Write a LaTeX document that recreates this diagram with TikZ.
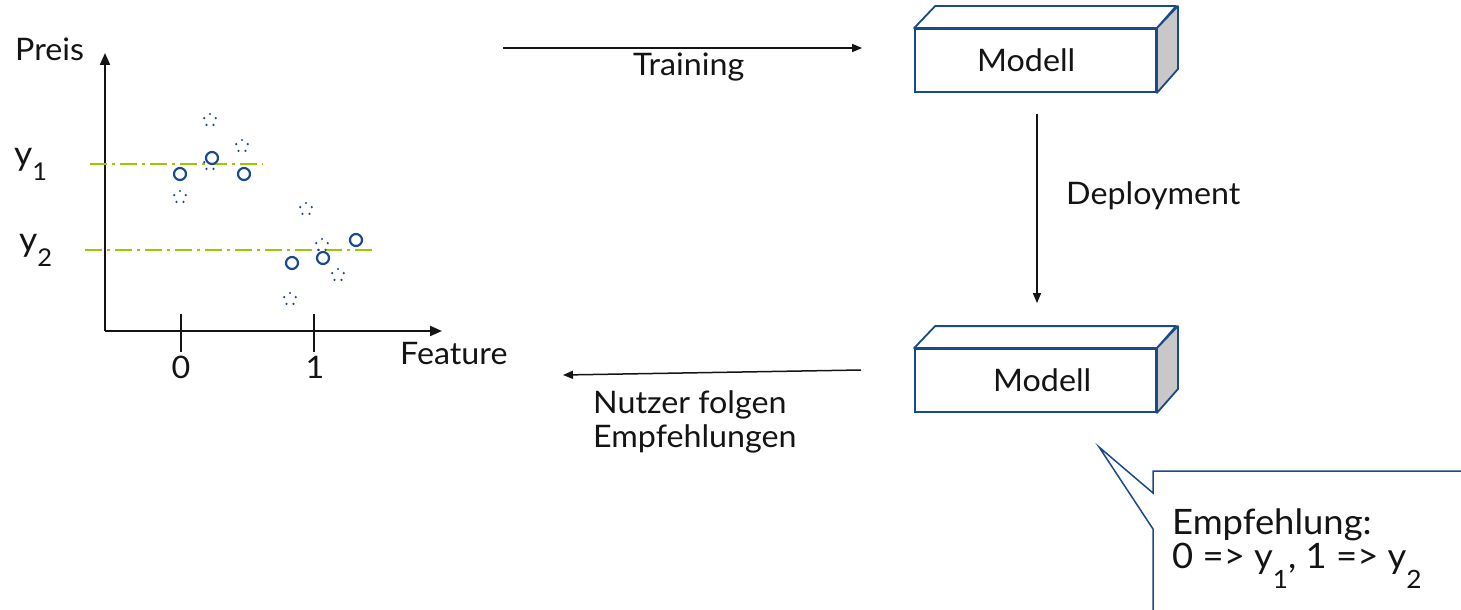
\documentclass[tikz,border=0pt]{standalone}
\usepackage{fontspec}
\setmainfont{Lato}[FakeStretch=1.04]
\usetikzlibrary{arrows.meta}

\definecolor{navy}{RGB}{24,74,140}
\definecolor{lime}{RGB}{155,200,0}
\definecolor{ink}{RGB}{20,20,20}
\definecolor{sidegray}{RGB}{200,200,200}

% lowered, reduced index digit
\newcommand\lowidx[2]{\raisebox{-#1pt}{\scalebox{0.72}{#2}}}

\begin{document}
\begin{tikzpicture}[x=1pt,y=-1pt,
  txt/.style={font=\fontsize{31}{37}\selectfont, text=ink, inner sep=0pt},
  ylab/.style={font=\fontsize{34}{40}\selectfont, text=ink, inner sep=0pt, anchor=base west},
  note/.style={font=\fontsize{35}{40}\selectfont, text=ink, inner sep=0pt, anchor=base west},
  axis/.style={draw=ink, line width=2pt, -{Triangle[length=12pt,width=10pt]}},
  tick/.style={draw=ink, line width=2pt},
  flow/.style={draw=ink, line width=1.5pt, -{Triangle[length=10pt,width=8pt]}},
  level/.style={draw=lime, line width=2.2pt, dash pattern=on 17pt off 5pt on 3pt off 5pt},
  obs/.style={draw=navy, line width=2.2pt, fill=white},
  front/.style={draw=navy, line width=1.8pt, fill=white, minimum width=241pt, minimum height=63pt, inner sep=0pt},
  face/.style={draw=navy, line width=1.8pt, line join=round},
  bubble/.style={draw=navy, line width=1.5pt, fill=white, line join=miter}
]
\useasboundingbox (0,0) rectangle (1461,610);
\clip (0,0) rectangle (1461,610);

% ---------- scatter chart ----------
\coordinate (origin) at (105,331);
\coordinate (ytop) at (105,53);
\coordinate (xend) at (442,331);
\draw[axis] (origin) -- (ytop);
\draw[axis] (origin) -- (xend);

\coordinate (t0a) at (181,314); \coordinate (t0b) at (181,352);
\coordinate (t1a) at (314,314); \coordinate (t1b) at (314,352);
\draw[tick] (t0a) -- (t0b);
\draw[tick] (t1a) -- (t1b);

\node[txt, anchor=base west] (preis) at (15,61) {Preis};
\node[txt, anchor=base west] (feature) at (400,364) {Feature};
\node[txt, anchor=base] (zero) at (181,378) {0};
\node[txt, anchor=base] (one) at (315,378) {1};

\node[ylab] (ylab1) at (14,165) {y\lowidx{15}{1}};
\node[ylab] (ylab2) at (19,251) {y\lowidx{15}{2}};

\coordinate (l1a) at (90,164);  \coordinate (l1b) at (263,164);
\coordinate (l2a) at (85,250);  \coordinate (l2b) at (372,250);
\draw[level] (l1a) -- (l1b);
\draw[level] (l2a) -- (l2b);

% hypothetical outcomes: rings of five dots
\foreach \cx/\cy in {210/120, 242/146, 210/164, 180/197, 306/209, 322/245, 338/275, 290/299}{
  \foreach \k in {0,...,4}
    \fill[navy] (\cx,\cy) ++(270+72*\k:6) circle (1.2);
}
% observed outcomes
\foreach \cx/\cy in {180/174, 212/158, 244/174, 292/263, 323/258, 356/240}{
  \draw[obs] (\cx,\cy) circle (6);
}

% ---------- model boxes ----------
\node[front] (box1) at (1035.5,60.5) {};
\node[front] (box2) at (1035.5,380.5) {};
\foreach \b in {box1,box2}{
  \filldraw[face, fill=white] (\b.north west) -- ++(21,-22) -- ++(241,0) -- (\b.north east) -- cycle;
  \filldraw[face, fill=sidegray] (\b.north east) -- ++(21,-22) -- ++(0,63) -- (\b.south east) -- cycle;
}
\node[txt, anchor=base west] (m1) at (977,71) {Modell};
\node[txt, anchor=base west] (m2) at (993,391) {Modell};

% ---------- flows ----------
\coordinate (trainfrom) at (503,48);
\draw[flow] (trainfrom) -- ([shift={(-52,-12.5)}]box1.west);
\node[txt, anchor=base west] (training) at (633,75) {Training};

\draw[flow] ([shift={(1.5,21)}]box1.south) -- ([shift={(1.5,-45)}]box2.north);
\node[txt, anchor=base west] (deploy) at (1066,204) {Deployment};

\coordinate (usersto) at (563,375);
\draw[flow] ([shift={(-53,-10.5)}]box2.west) -- (usersto);
\node[txt, anchor=base west] (users1) at (593,413) {Nutzer folgen};
\node[txt, anchor=base west] (users2) at (593,447) {Empfehlungen};

% ---------- recommendation callout ----------
\draw[bubble] (1153,640) -- (1153,529) -- (1099,447) -- (1153,493) -- (1153,471) -- (1480,471) -- (1480,640);
\node[note] (rec1) at (1172,534) {Empfehlung:};
\node[note] (rec2) at (1172,568) {0 => y\lowidx{20}{1}, 1 => y\lowidx{20}{2}};
\end{tikzpicture}
\end{document}
